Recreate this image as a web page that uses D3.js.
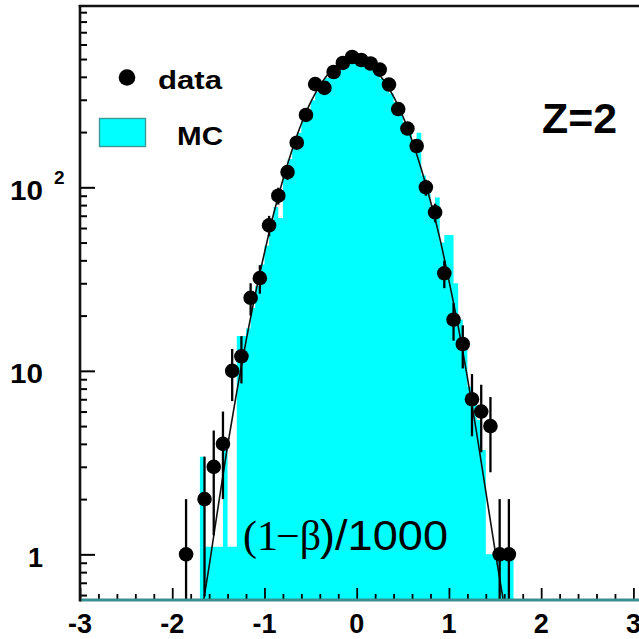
<!DOCTYPE html>
<html>
<head>
<meta charset="utf-8">
<script src="https://cdn.jsdelivr.net/npm/d3@7"></script>
<style>
  html, body { margin: 0; padding: 0; background: #fff; }
  svg { display: block; }
  text { font-family: "Liberation Sans", Arial, Helvetica, sans-serif; }
</style>
</head>
<body>
<svg id="chart" width="639" height="639"></svg>
<script>
// ---- data -------------------------------------------------------------
// measured counts per 0.1-wide bin (bin centres)
const dataX = [-1.85, -1.65, -1.55, -1.45, -1.35, -1.25, -1.15, -1.05, -0.95, -0.85,
               -0.75, -0.65, -0.55, -0.45, -0.35, -0.25, -0.15, -0.05, 0.05, 0.15,
               0.25, 0.35, 0.45, 0.55, 0.65, 0.75, 0.85, 0.95, 1.05, 1.15,
               1.25, 1.35, 1.45, 1.55, 1.65];
const dataY = [1, 2, 3, 4, 10, 12, 25, 32, 62, 90,
               121, 175, 248, 365, 348, 425, 476, 513, 494, 473,
               438, 363, 267, 209, 168, 100, 73, 34, 19, 14,
               7, 6, 5, 1, 1];
const dataErr = [1, 1.41, 1.73, 2, 3.16, 3.46, 5, 5.66, 7.9, 9.5,
                 11, 13.2, 15.7, 19.1, 18.7, 20.6, 21.8, 22.6, 22.2, 21.7,
                 20.9, 19.1, 16.3, 14.5, 13, 10, 8.5, 5.8, 4.4, 3.7,
                 2.6, 2.4, 2.2, 1, 1];

// simulated (MC) histogram, 0.05-wide bins starting at mcStart
const mcStart = -1.70;
const mcWidth = 0.05;
const mcY = [3.4, 1.1, 1.1, 1.1, 1.1, 4.2, 1.1, 1.1, 15.5, 15.5,
             17, 22, 29, 38, 48, 62, 78, 68, 118, 142,
             168, 198, 230, 262, 298, 330, 362, 395, 425, 445,
             465, 480, 490, 495, 490, 480, 462, 440, 418, 390,
             360, 325, 292, 258, 226, 196, 168, 198, 116, 96,
             78, 88, 50, 55, 55, 30, 19, 14.7, 8.2, 7,
             5.4, 3.7, 1.0, 1.0, 1.0, 1.0, 1.0, 1.0];

// fitted curve sampled along x
const fitX = [-1.66, -1.6, -1.5, -1.4, -1.3, -1.2, -1.1, -1.0, -0.9, -0.8,
              -0.7, -0.6, -0.5, -0.4, -0.3, -0.2, -0.1, 0.0, 0.1, 0.2,
              0.3, 0.4, 0.5, 0.6, 0.7, 0.8, 0.9, 1.0, 1.1, 1.2,
              1.3, 1.4, 1.5, 1.59];
const fitY = [0.56, 0.86, 1.85, 3.9, 7.7, 14.5, 26, 44, 72, 110,
              160, 222, 290, 358, 420, 467, 494, 499, 479, 436,
              378, 312, 244, 180, 126, 84, 53, 31, 17.5, 9.2,
              4.6, 2.2, 1.05, 0.56];

// axis ticks and labels
const xTicks = [-3, -2, -1, 0, 1, 2, 3];
const xTickLabels = ["-3", "-2", "-1", "0", "1", "2", "3"];
const yTicks = [1, 10, 100];
const yTickLabels = ["1", "10", "10"];
const yTickExp = ["", "", "2"];

const legendLabels = ["data", "MC"];
const panelLabel = "Z=2";

// ---- layout -----------------------------------------------------------
const svg = d3.select("#chart");
const padL = 80, padR = 633.4, padT = 5, padB = 600;

const x = d3.scaleLinear().domain([-3, 3]).range([padL, padR]);
const y = d3.scaleLog().domain([0.564, 985]).range([padB, padT]);
const yMin = y.domain()[0];

svg.append("defs").append("clipPath").attr("id", "plotClip")
  .append("rect").attr("x", padL).attr("y", padT)
  .attr("width", 639 - padL).attr("height", padB - padT);

const plot = svg.append("g").attr("clip-path", "url(#plotClip)");

// ---- MC histogram (step area) ----------------------------------------
const steps = [];
mcY.forEach((v, i) => {
  const lo = mcStart + i * mcWidth, hi = lo + mcWidth;
  steps.push([lo, v], [hi, v]);
});
plot.append("path")
  .datum(steps)
  .attr("fill", "#00ffff")
  .attr("stroke", "none")
  .attr("d", d3.area()
    .x(d => x(d[0]))
    .y0(padB)
    .y1(d => y(Math.max(d[1], yMin))));

// ---- fit curve ---------------------------------------------------------
plot.append("path")
  .datum(fitX.map((v, i) => [v, fitY[i]]))
  .attr("fill", "none")
  .attr("stroke", "#111")
  .attr("stroke-width", 1.6)
  .attr("d", d3.line()
    .x(d => x(d[0]))
    .y(d => y(d[1]))
    .curve(d3.curveCatmullRom));

// ---- data points with error bars ---------------------------------------
const pts = dataX.map((v, i) => ({ x: v, y: dataY[i], e: dataErr[i] }));
plot.selectAll("line.err").data(pts).join("line")
  .attr("class", "err")
  .attr("x1", d => x(d.x)).attr("x2", d => x(d.x))
  .attr("y1", d => y(d.y + d.e))
  .attr("y2", d => (d.y - d.e) > yMin ? y(d.y - d.e) : padB)
  .attr("stroke", "#000").attr("stroke-width", 2.3);
plot.selectAll("circle.pt").data(pts).join("circle")
  .attr("class", "pt")
  .attr("cx", d => x(d.x)).attr("cy", d => y(d.y))
  .attr("r", 7.3).attr("fill", "#000");

// ---- axes ---------------------------------------------------------------
// left axis: major and minor ticks pointing into the frame
const yMajor = d3.axisRight(y).tickValues(yTicks).tickSize(15).tickFormat("");
const yMinor = d3.axisRight(y)
  .tickValues(y.ticks().filter(t => !yTicks.includes(t)))
  .tickSize(7).tickFormat("");
[yMajor, yMinor].forEach(ax => {
  const g = svg.append("g").attr("transform", `translate(${padL},0)`).call(ax);
  g.select(".domain").remove();
  g.selectAll("line").attr("stroke", "#000").attr("stroke-width", 2);
});

// bottom axis: integer ticks plus minor ticks every 0.2
const xMinorVals = d3.range(-15, 16).map(k => k / 5).filter(v => !Number.isInteger(v));
const xMajor = d3.axisTop(x).tickValues(xTicks).tickSize(12).tickFormat("");
const xMinor = d3.axisTop(x).tickValues(xMinorVals).tickSize(6).tickFormat("");
[xMajor, xMinor].forEach(ax => {
  const g = svg.append("g").attr("transform", `translate(0,${padB})`).call(ax);
  g.select(".domain").remove();
  g.selectAll("line").attr("stroke", "#000").attr("stroke-width", 1.8);
});

// frame lines
svg.append("line").attr("x1", padL).attr("x2", 639).attr("y1", padB).attr("y2", padB)
  .attr("stroke", "#3a8f8f").attr("stroke-width", 3);
svg.append("line").attr("x1", padL).attr("x2", padL).attr("y1", padT).attr("y2", padB + 1.5)
  .attr("stroke", "#111").attr("stroke-width", 2.6);
svg.append("line").attr("x1", padL - 1.3).attr("x2", 639).attr("y1", 6).attr("y2", 6)
  .attr("stroke", "#111").attr("stroke-width", 2.4);

// tick labels
svg.selectAll("text.xl").data(xTicks).join("text")
  .attr("class", "xl")
  .attr("x", d => x(d)).attr("y", 633)
  .attr("text-anchor", "middle")
  .attr("font-size", 27).attr("font-weight", "bold")
  .text((d, i) => xTickLabels[i]);

yTicks.forEach((v, i) => {
  svg.append("text")
    .attr("x", 43).attr("y", y(v) + 12.5)
    .attr("text-anchor", "end")
    .attr("font-size", 27).attr("font-weight", "bold")
    .attr("textLength", v < 10 ? null : 33)
    .attr("lengthAdjust", "spacingAndGlyphs")
    .text(yTickLabels[i]);
  if (yTickExp[i]) {
    svg.append("text")
      .attr("x", 54).attr("y", y(v) - 3.5)
      .attr("font-size", 19).attr("font-weight", "bold")
      .text(yTickExp[i]);
  }
});

// ---- legend ---------------------------------------------------------------
svg.append("circle").attr("cx", 127).attr("cy", 77.5).attr("r", 8.3).attr("fill", "#000");
svg.append("text").attr("x", 158).attr("y", 89)
  .attr("font-size", 25).attr("font-weight", "bold")
  .attr("textLength", 64).attr("lengthAdjust", "spacingAndGlyphs")
  .text(legendLabels[0]);
svg.append("rect").attr("x", 99.5).attr("y", 118.5).attr("width", 46).attr("height", 28)
  .attr("fill", "#00ffff").attr("stroke", "#3a9a9a").attr("stroke-width", 1.4);
svg.append("text").attr("x", 177).attr("y", 145)
  .attr("font-size", 25).attr("font-weight", "bold")
  .attr("textLength", 46).attr("lengthAdjust", "spacingAndGlyphs")
  .text(legendLabels[1]);

// panel label
svg.append("text").attr("x", 542).attr("y", 133)
  .attr("font-size", 42).attr("font-weight", "bold")
  .attr("textLength", 75).attr("lengthAdjust", "spacingAndGlyphs")
  .text(panelLabel);

// variable label inside the frame
const serif = "'Liberation Serif', 'Times New Roman', serif";
const lbl = svg.append("text").attr("y", 550).attr("font-size", 42);
lbl.append("tspan").attr("x", 243).attr("font-family", serif).text("(1");
lbl.append("tspan").attr("x", 276).attr("font-family", serif).text("−β");
lbl.append("tspan").attr("x", 320)
  .attr("font-family", "'Liberation Sans', Arial, sans-serif")
  .attr("textLength", 128).attr("lengthAdjust", "spacingAndGlyphs")
  .text(")/1000");
</script>
</body>
</html>
